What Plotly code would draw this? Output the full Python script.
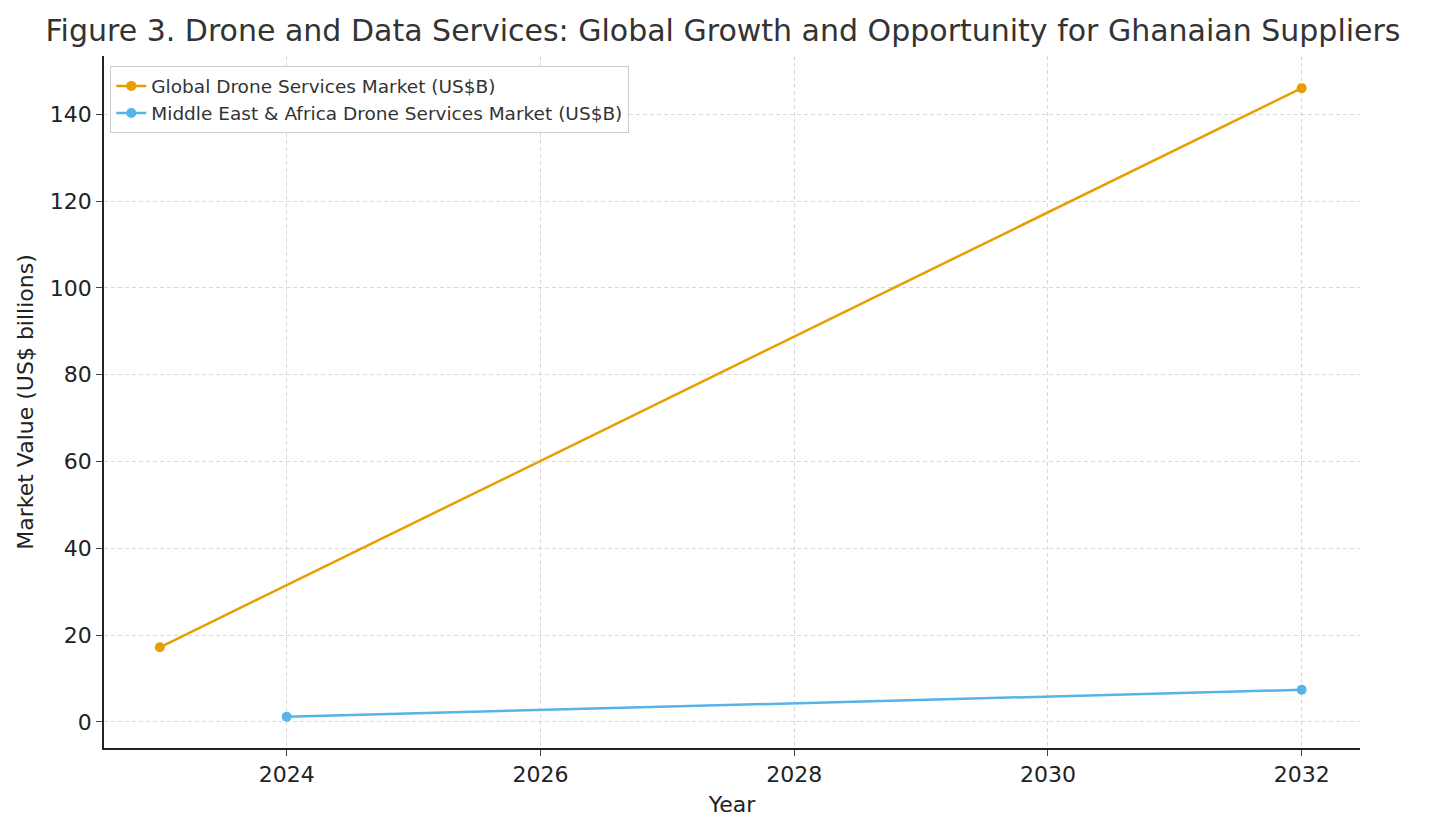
import plotly.graph_objects as go

# Datos
global_years = [2023, 2032]
global_values = [17.2, 146.0]
mea_years = [2024, 2032]
mea_values = [1.2, 7.4]

fig = go.Figure()
fig.add_trace(go.Scatter(
    x=global_years, y=global_values, mode="lines+markers",
    name="Global Drone Services Market (US$B)",
    line=dict(color="#E69F00", width=2.5), marker=dict(size=10),
))
fig.add_trace(go.Scatter(
    x=mea_years, y=mea_values, mode="lines+markers",
    name="Middle East & Africa Drone Services Market (US$B)",
    line=dict(color="#56B4E9", width=2.5), marker=dict(size=10),
))

axis_style = dict(
    showgrid=True, gridcolor="rgba(180,180,180,0.5)", griddash="4px,3px",
    showline=True, linecolor="#222", linewidth=1.5, ticks="outside",
    ticklen=6, tickfont=dict(size=22, color="#222"), zeroline=False,
    automargin=False,
)

fig.update_layout(
    width=1430, height=814,
    title=dict(
        text="Figure 3. Drone and Data Services: Global Growth and Opportunity for Ghanaian Suppliers",
        x=0.5, xanchor="center", y=0.985, yanchor="top",
        font=dict(size=30, color="#333"),
    ),
    font=dict(family="DejaVu Sans", color="#222"),
    plot_bgcolor="white", paper_bgcolor="white",
    margin=dict(l=96, r=78, t=48, b=74),
    legend=dict(
        x=0.005, y=0.985, xanchor="left", yanchor="top",
        bgcolor="white", bordercolor="#ccc", borderwidth=1,
        font=dict(size=18.5, color="#333"),
    ),
)
fig.update_xaxes(axis_style, range=[2022.56, 2032.46], dtick=2, tick0=2024,
                 title=dict(text="Year", font=dict(size=22), standoff=10))
fig.update_yaxes(axis_style, range=[-6, 153.4], dtick=20,
                 title=dict(text="Market Value (US$ billions)", font=dict(size=22), standoff=10))

fig.write_html("out.html")
